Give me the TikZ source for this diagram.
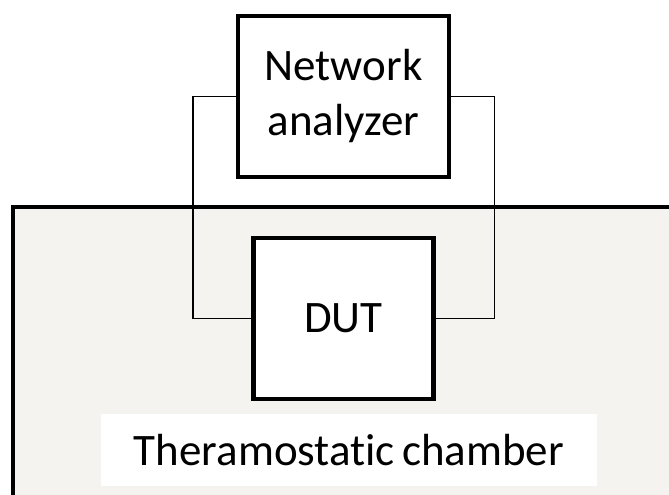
\documentclass[tikz,border=0pt]{standalone}
\usepackage{fontspec}
\setmainfont{Carlito}[Ligatures=NoCommon]
\definecolor{chamberfill}{RGB}{244,243,239}
\tikzset{
  box/.style={draw=black, line width=4.6pt, fill=white, inner sep=0pt, align=center,
    font=\fontsize{45}{55}\selectfont},
  wire/.style={draw=black, line width=1.2pt},
}
\begin{document}
\begin{tikzpicture}[x=1pt,y=-1pt]
\useasboundingbox (0,0) rectangle (669,495);
\clip (0,0) rectangle (669,495);
\fill[white] (0,0) rectangle (669,495);
% chamber
\draw[line width=4.6pt, fill=chamberfill] (13,207) rectangle (700,530);
\node[fill=white, minimum width=496pt, minimum height=72pt, inner sep=0pt,
  font=\fontsize{45}{55}\selectfont] (lbl) at (349,450) {Theramostatic\hspace{-3pt} chamber};
% boxes
\node[box, minimum width=211pt, minimum height=161pt] (na) at (343.5,96.5) {Network\\analyzer};
\node[box, minimum width=180pt, minimum height=161pt] (dut) at (343.3,318.5) {DUT};
% wires
\coordinate (lc) at (193,0);
\coordinate (rc) at (494.5,0);
\draw[wire] (na.west) -- (na.west -| lc) |- (dut.west);
\draw[wire] (na.east) -- (na.east -| rc) |- (dut.east);
\end{tikzpicture}
\end{document}
